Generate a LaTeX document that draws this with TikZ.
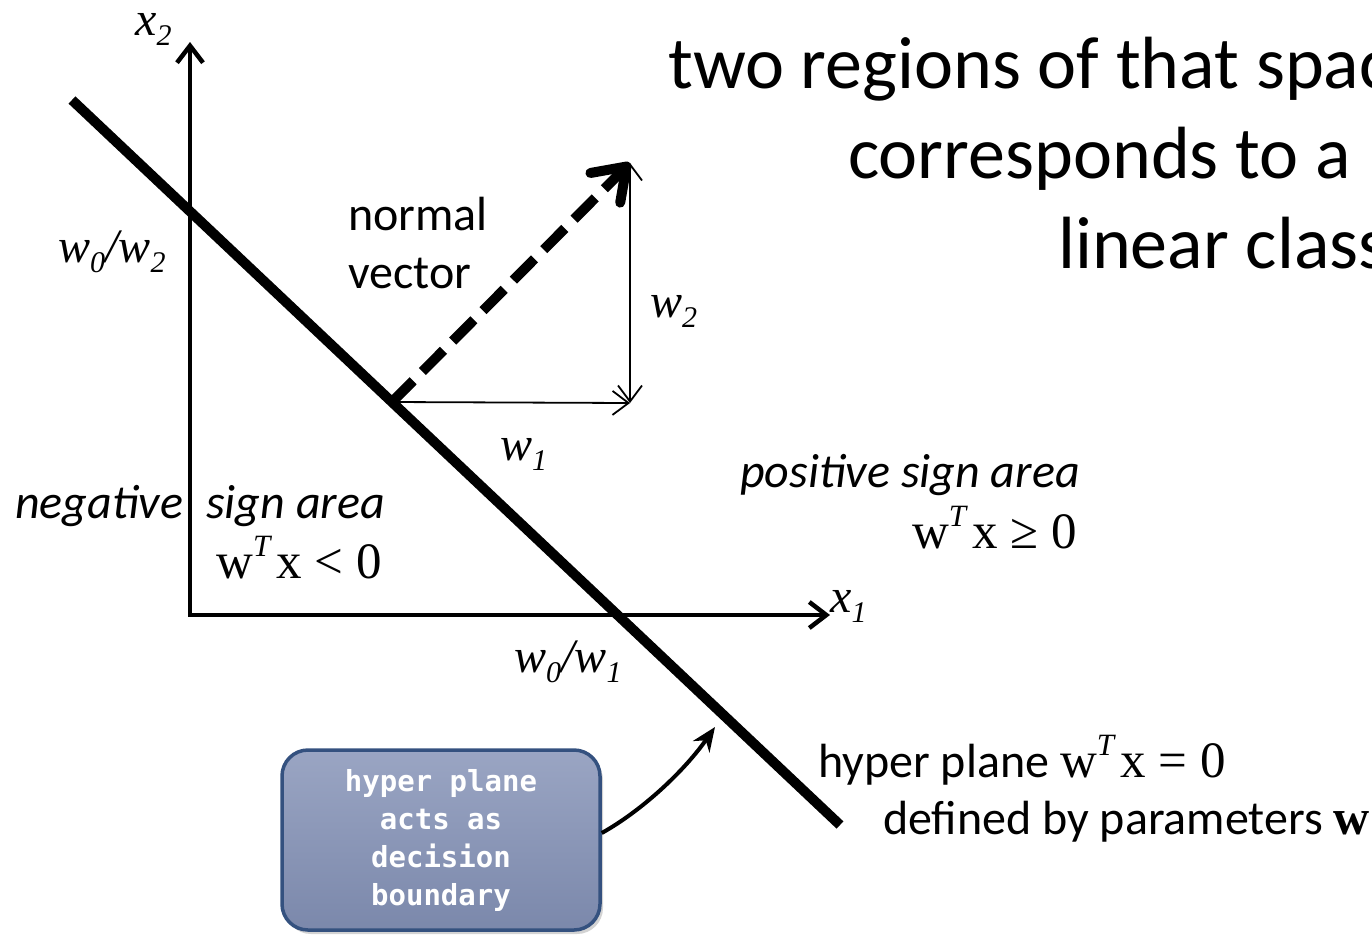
\documentclass[tikz,border=0pt]{standalone}
\usepackage{fontspec}
\setmainfont{Carlito}
\newfontfamily\tms{Liberation Serif}
\newfontfamily\monofnt{DejaVu Sans Mono}
\usetikzlibrary{arrows.meta,shadows}
\definecolor{boxtop}{HTML}{9AA5C3}
\definecolor{boxbot}{HTML}{7B88AB}
\definecolor{boxedge}{HTML}{34517F}
\newcommand\sbs[1]{\raisebox{-0.22em}{\fontsize{30}{30}\selectfont #1}}
\newcommand\sps[1]{\raisebox{0.42em}{\fontsize{31}{31}\selectfont\itshape #1}}
\begin{document}
\begin{tikzpicture}[x=1pt,y=-1pt,
  axis/.style={line width=4.5pt,line join=miter,{Straight Barb[length=17pt,width=26pt]}-{Straight Barb[length=17pt,width=26pt]}},
  thinarr/.style={line width=1.8pt,{Straight Barb[length=16pt,width=24pt]}-{Straight Barb[length=16pt,width=24pt]}},
  plane/.style={line width=10pt},
  normalvec/.style={line width=10pt,dash pattern=on 30pt off 13pt,-{Straight Barb[length=30pt,width=42pt,round]}},
  lab/.style={font=\fontsize{48}{58}\selectfont,inner sep=0pt},
  itlab/.style={font=\fontsize{48}{58}\selectfont\itshape,inner sep=0pt},
  mth/.style={font=\tms\fontsize{51}{60}\selectfont,inner sep=0pt},
  mthit/.style={font=\tms\itshape\fontsize{48}{56}\selectfont,inner sep=0pt},
  title/.style={font=\fontsize{74}{90}\selectfont,inner sep=0pt},
  callout/.style={rounded corners=26pt,draw=boxedge,line width=3.5pt,top color=boxtop,bottom color=boxbot,
     minimum width=318pt,minimum height=180pt,align=center,text=white,
     font=\monofnt\bfseries\fontsize{29}{38}\selectfont,
     drop shadow={opacity=0.35,shadow xshift=3pt,shadow yshift=-4pt}},
  pointer/.style={line width=4pt,-{Stealth[length=24pt,width=20pt]}}
]
\useasboundingbox (0,0) rectangle (1372,940);

\coordinate (O) at (190,615);
\coordinate (Y) at (190,42);
\coordinate (X) at (830,615);
\coordinate (P1) at (72,100);
\coordinate (P2) at (840,825);
\coordinate (F) at (392,402);
\coordinate (N) at (630,163);
\coordinate (C) at (630,403);
\coordinate (E) at (715,727);

% title text (clipped by the page edge, as in the reference)
\node[title,anchor=base west] (t1) at (668,88) {two regions of that space};
\node[title,anchor=base west] (t2) at (848,178) {corresponds to a};
\node[title,anchor=base west] (t3) at (1058,268) {linear classifier};

% axes and hyperplane
\draw[axis] (Y) -- (O) -- (X);
\draw[plane] (P1) -- (P2);
\draw[normalvec] (F) -- (N);
\draw[thinarr] (F) -- (C);
\draw[thinarr] (N) -- (C);

% labels
\node[mthit,anchor=base west] (x2) at (135,35) {x\sbs{2}};
\node[mthit,anchor=base west] (w0w2) at (58,262) {w\sbs{0}/w\sbs{2}};
\node[mthit,anchor=base west] (w2) at (650,317) {w\sbs{2}};
\node[mthit,anchor=base west] (w1) at (500,460) {w\sbs{1}};
\node[mthit,anchor=base west] (x1) at (830,612) {x\sbs{1}};
\node[mthit,anchor=base west] (w0w1) at (514,672) {w\sbs{0}/w\sbs{1}};

\node[lab,anchor=base west] (nv1) at (348,230) {normal};
\node[lab,anchor=base west] (nv2) at (348,288) {vector};

\node[itlab,anchor=base west] (neg1) at (15,518) {negative};
\node[itlab,anchor=base west] (neg2) at (206,518) {sign area};
\node[mth,anchor=base west] (neq) at (216,578) {w\sps{T}\hspace{0.12em}x\hspace{0.25em}<\hspace{0.25em}0};

\node[itlab,anchor=base west] (pos) at (740,487) {positive sign area};
\node[mth,anchor=base east] (peq) at (1077,548) {w\sps{T}\hspace{0.12em}x\hspace{0.25em}≥\hspace{0.25em}0};

\node[lab,anchor=base west] (hp) at (818,777) {hyper plane {\tms\fontsize{51}{60}\selectfont w\sps{T}\hspace{0.12em}x\hspace{0.25em}=\hspace{0.25em}0}};
\node[lab,anchor=base west] (def) at (883,834) {defined by parameters {\tms\bfseries\fontsize{50}{60}\selectfont w}};

% callout box
\node[callout] (box) at (441,840) {hyper plane\\acts as\\decision\\boundary};
\draw[pointer] ([yshift=7pt]box.east) .. controls (643,810) and (685,770) .. (E);
\end{tikzpicture}
\end{document}
